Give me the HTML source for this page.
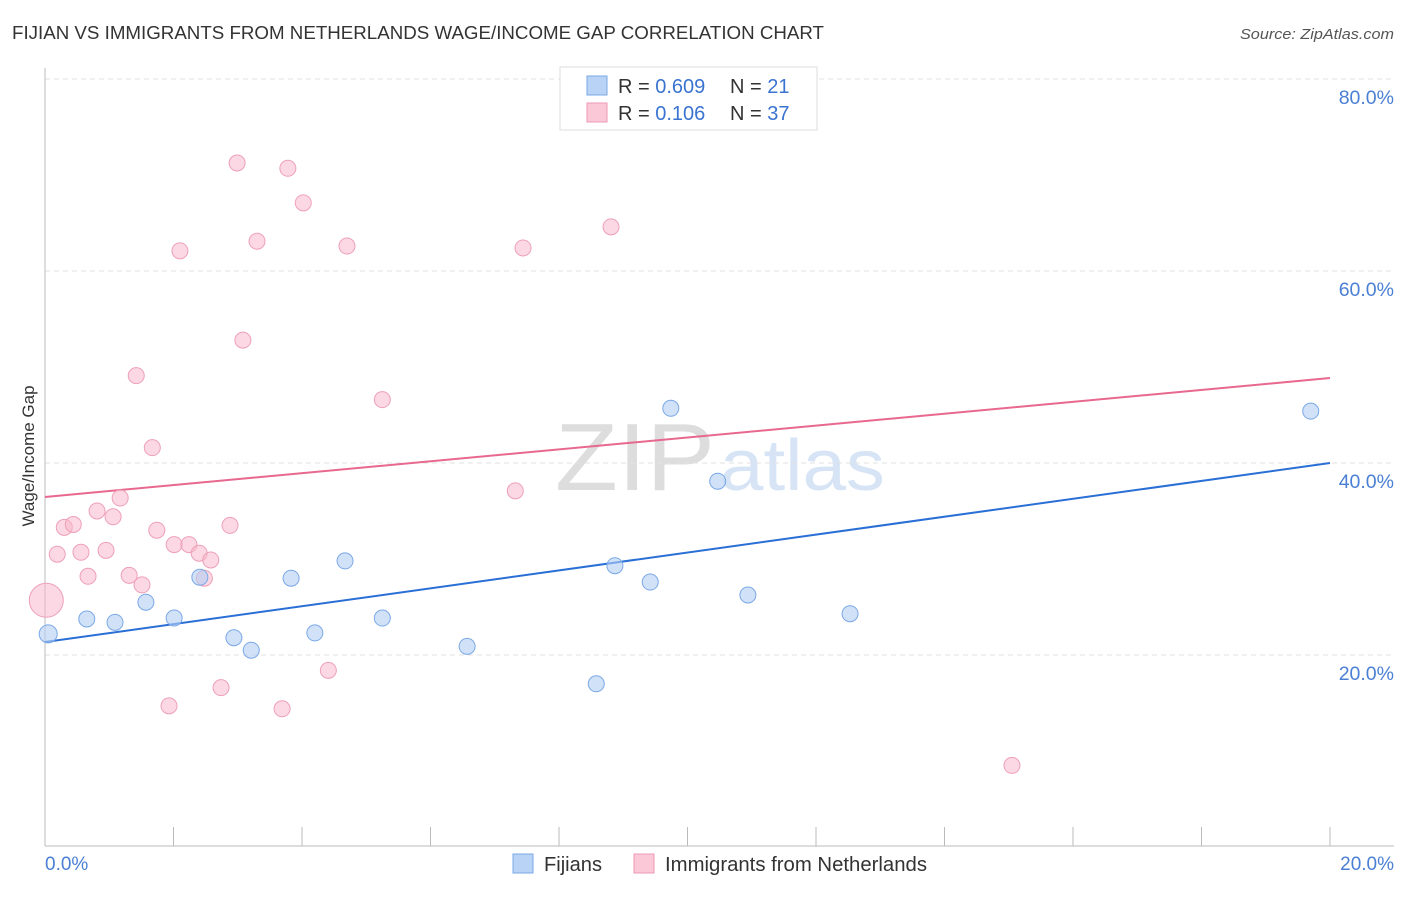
<!DOCTYPE html>
<html><head><meta charset="utf-8"><style>
body{margin:0;background:#fff;font-family:"Liberation Sans",sans-serif;}
svg text{font-family:"Liberation Sans",sans-serif;}
</style></head><body>
<svg id="c" width="1406" height="892">
<text x="12" y="39" font-size="18" fill="#333" textLength="812" lengthAdjust="spacingAndGlyphs">FIJIAN VS IMMIGRANTS FROM NETHERLANDS WAGE/INCOME GAP CORRELATION CHART</text>
<text x="1394" y="39" font-size="15" fill="#555" font-style="italic" text-anchor="end" textLength="154" lengthAdjust="spacingAndGlyphs">Source: ZipAtlas.com</text>
<text x="555" y="490" font-size="96" fill="#ddd" font-family="Liberation Serif" textLength="160" lengthAdjust="spacingAndGlyphs">ZIP</text>
<text x="720" y="490" font-size="72" fill="#d6e4f5" textLength="165" lengthAdjust="spacingAndGlyphs">atlas</text>
<g id="grid"></g><g id="axes"></g><g id="lines"></g><g id="pts"></g>
<text transform="translate(34,456) rotate(-90)" font-size="17" fill="#333" text-anchor="middle">Wage/Income Gap</text>
<text x="45" y="870" font-size="19" fill="#4a7fd4">0.0%</text>
<text x="1394" y="870" font-size="19" fill="#4a7fd4" text-anchor="end">20.0%</text>
<g>
<rect x="560" y="67" width="257" height="63" fill="#fff" stroke="#ddd"/>
<rect x="587" y="76" width="20" height="19" fill="#b8d3f5" stroke="#7aa8e6"/>
<rect x="587" y="103" width="20" height="19" fill="#fac8d6" stroke="#ee9ab4"/>
<text x="618" y="93" font-size="20" fill="#333">R = <tspan fill="#3a74d0">0.609</tspan></text>
<text x="730" y="93" font-size="20" fill="#333">N = <tspan fill="#3a74d0"> 21</tspan></text>
<text x="618" y="120" font-size="20" fill="#333">R = <tspan fill="#3a74d0"> 0.106</tspan></text>
<text x="730" y="120" font-size="20" fill="#333">N = <tspan fill="#3a74d0">37</tspan></text>
</g>
<g>
<rect x="513" y="854" width="20" height="19" fill="#b8d3f5" stroke="#7aa8e6"/>
<text x="544" y="871" font-size="20" fill="#333" textLength="58" lengthAdjust="spacingAndGlyphs">Fijians</text>
<rect x="634" y="854" width="20" height="19" fill="#fac8d6" stroke="#ee9ab4"/>
<text x="665" y="871" font-size="20" fill="#333" textLength="262" lengthAdjust="spacingAndGlyphs">Immigrants from Netherlands</text>
</g>
</svg>
<script>
const yTicks=[20,40,60,80];
const yTickLabels=["20.0%","40.0%","60.0%","80.0%"];
const xTicks=[0,2,4,6,8,10,12,14,16,18,20];
const fijiX=[0.05,0.65,1.09,1.57,2.01,2.41,2.94,3.21,3.83,4.20,4.67,5.25,6.57,8.58,8.87,9.42,9.74,10.47,10.94,12.53,19.70];
const fijiY=[22.2,23.75,23.4,25.5,23.85,28.1,21.8,20.5,28.0,22.3,29.8,23.85,20.9,17.0,29.3,27.6,45.7,38.1,26.25,24.3,45.4];
const nethX=[0.02,0.19,0.30,0.44,0.56,0.67,0.81,0.95,1.06,1.17,1.31,1.42,1.51,1.67,1.74,1.93,2.01,2.10,2.24,2.40,2.48,2.58,2.74,2.88,2.99,3.08,3.30,3.69,3.78,4.02,4.41,4.70,5.25,7.32,7.44,8.81,15.05];
const nethY=[25.7,30.5,33.3,33.6,30.7,28.2,35.0,30.9,34.4,36.35,28.3,49.1,27.3,41.6,33.0,14.7,31.5,62.1,31.5,30.6,28.0,29.9,16.6,33.5,71.25,52.8,63.1,14.4,70.7,67.1,18.4,62.6,46.6,37.1,62.4,64.6,8.5];
const trendFiji=[21.35,40.0];
const trendNeth=[36.46,48.85];
const NS="http://www.w3.org/2000/svg";
const X=v=>45+v/20*1285, Y=v=>847-v*9.6;
function mk(p,t,a){const e=document.createElementNS(NS,t);for(const k in a)e.setAttribute(k,a[k]);document.getElementById(p).appendChild(e);return e;}
yTicks.forEach((t,i)=>{
 const g=mk('grid','line',{x1:45,x2:1394,y1:Y(t),y2:Y(t),stroke:'#e2e2e2','stroke-dasharray':'5,4'});
 
 
 const l=mk('grid','text',{x:1394,y:Y(t)+25,'font-size':19.5,fill:'#4a7fd4','text-anchor':'end'});
 l.textContent=yTickLabels[i];
 
 
});
const ax=mk('axes','line',{x1:45,x2:45,y1:68,y2:846,stroke:'#bbb'});


const bx=mk('axes','line',{x1:45,x2:1394,y1:846,y2:846,stroke:'#bbb'});


xTicks.forEach(t=>{const e=mk('axes','line',{x1:X(t),x2:X(t),y1:827,y2:846,stroke:'#bbb'});
 
 });
const lf=mk('lines','line',{x1:X(0),x2:X(20),y1:Y(trendFiji[0]),y2:Y(trendFiji[1]),stroke:'#2a6fd6','stroke-width':2});


const ln=mk('lines','line',{x1:X(0),x2:X(20),y1:Y(trendNeth[0]),y2:Y(trendNeth[1]),stroke:'#e8688f','stroke-width':2});


nethX.forEach((x,i)=>{const r=i==0?17:8;
 const c=mk('pts','circle',{cx:X(x),cy:Y(nethY[i]),r:r,fill:'rgba(248,184,204,0.55)',stroke:'#eea0b8','stroke-width':1});
 
 });
fijiX.forEach((x,i)=>{
 const c=mk('pts','circle',{cx:X(x),cy:Y(fijiY[i]),r:i==0?9:8,fill:'rgba(178,206,244,0.6)',stroke:'#7aa8e6','stroke-width':1});
 
 });
</script>
</body></html>
